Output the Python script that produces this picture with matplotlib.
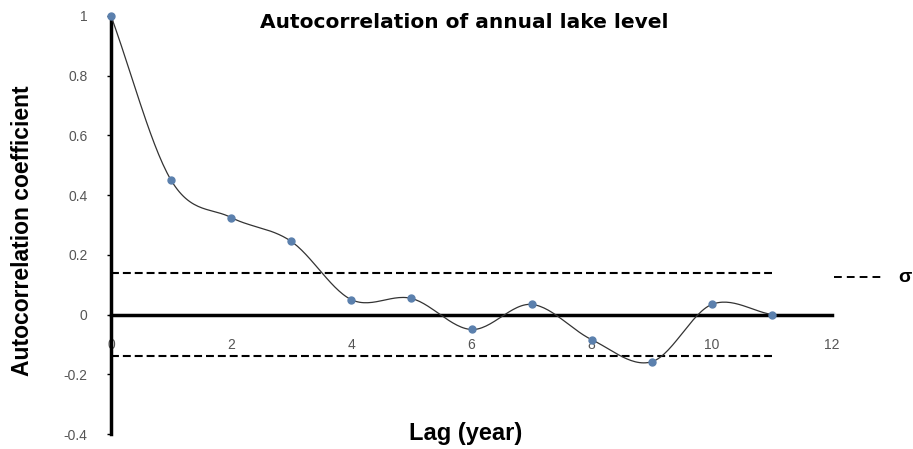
import numpy as np
import matplotlib.pyplot as plt

plt.rcParams['font.family'] = ['Liberation Sans', 'DejaVu Sans']

lags = [0, 1, 2, 3, 4, 5, 6, 7, 8, 9, 10, 11]
acf = [1.0, 0.45, 0.325, 0.245, 0.05, 0.054, -0.05, 0.034, -0.084, -0.158, 0.034, 0.0]
sigma_upper = 0.14
sigma_lower = -0.14
xticks = [0, 2, 4, 6, 8, 10, 12]
yticks = [-0.4, -0.2, 0, 0.2, 0.4, 0.6, 0.8, 1]
ytick_labels = ['-0.4', '-0.2', '0', '0.2', '0.4', '0.6', '0.8', '1']


def smooth(x, y, n=30):
    # catmull-rom curve through the points, like excel's "smoothed line"
    x = np.asarray(x, float)
    y = np.asarray(y, float)
    px = np.concatenate([[2 * x[0] - x[1]], x, [2 * x[-1] - x[-2]]])
    py = np.concatenate([[2 * y[0] - y[1]], y, [2 * y[-1] - y[-2]]])
    t = np.linspace(0, 1, n)
    xs, ys = [], []
    for i in range(1, len(px) - 2):
        for p, out in ((px, xs), (py, ys)):
            p0, p1, p2, p3 = p[i - 1], p[i], p[i + 1], p[i + 2]
            out.extend(0.5 * (2 * p1 + (-p0 + p2) * t
                              + (2 * p0 - 5 * p1 + 4 * p2 - p3) * t ** 2
                              + (-p0 + 3 * p1 - 3 * p2 + p3) * t ** 3))
    return np.array(xs), np.array(ys)


fig = plt.figure(figsize=(9.13, 4.49), dpi=100)
ax = fig.add_axes([0.1216, 0.0334, 0.7897, 0.931])

sx, sy = smooth(lags, acf)
ax.plot(sx, sy, color='#333333', lw=0.9, zorder=3, clip_on=False)
ax.plot(lags, acf, 'o', color='#5b80ad', ms=5, zorder=4, clip_on=False)

# +/- sigma bands
ax.plot([lags[0], lags[-1]], [sigma_upper, sigma_upper], color='black', lw=1.5, ls='--', dashes=(3.8, 1.9))
ax.plot([lags[0], lags[-1]], [sigma_lower, sigma_lower], color='black', lw=1.5, ls='--', dashes=(3.8, 1.9))

ax.set_xlim(0, 12)
ax.set_ylim(-0.4, 1)
for s in ['top', 'right']:
    ax.spines[s].set_visible(False)
ax.spines['bottom'].set_position(('data', 0))
ax.spines['bottom'].set_linewidth(2.5)
ax.spines['left'].set_linewidth(2.5)

ax.set_xticks(xticks)
ax.set_xticklabels([str(v) for v in xticks])
ax.set_yticks(yticks)
ax.set_yticklabels(ytick_labels)
ax.tick_params(axis='x', length=0, pad=17, labelsize=10, labelcolor='#555555')
ax.tick_params(axis='y', length=3, width=1, pad=14, labelsize=10, labelcolor='#555555')

# legend drawn by hand, outside the axes
ax.plot([12.03, 12.88], [0.125, 0.125], color='black', lw=1.4, ls='--', dashes=(4, 2.6), clip_on=False)
ax.text(13.1, 0.125, '\u03c3', ha='left', va='center', fontsize=14, fontweight='bold', clip_on=False)

fig.text(0.508, 0.951, 'Autocorrelation of annual lake level', ha='center', va='center',
         fontsize=14.5, fontweight='bold', family='DejaVu Sans')
fig.text(0.025, 0.486, 'Autocorrelation coefficient', ha='center', va='center',
         rotation=90, fontsize=16.5, fontweight='bold')
fig.text(0.51, 0.035, 'Lag (year)', ha='center', va='center', fontsize=17, fontweight='bold')

fig.savefig('out.png', dpi=100)
